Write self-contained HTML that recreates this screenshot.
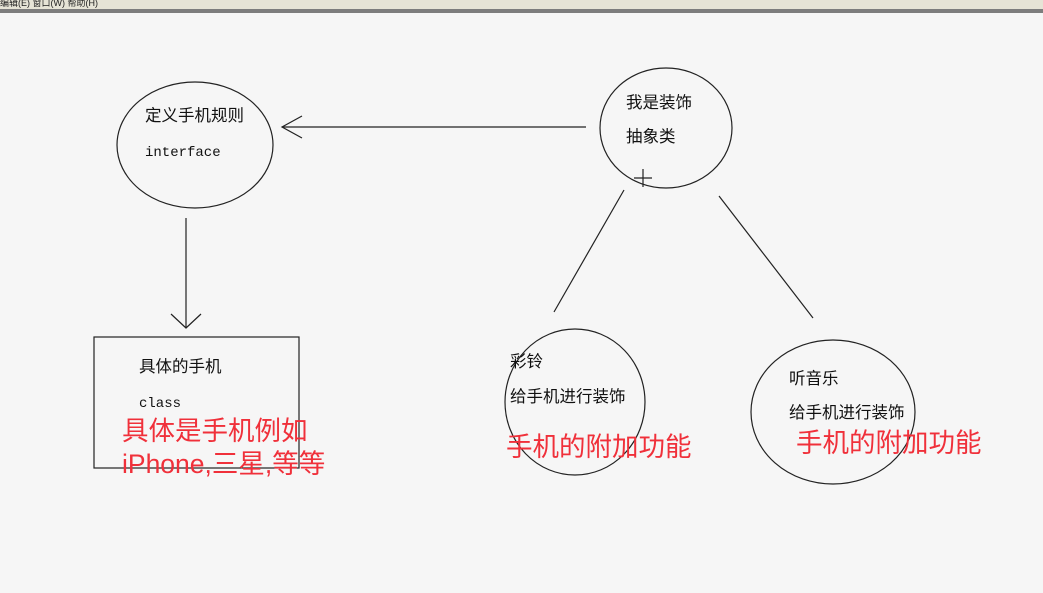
<!DOCTYPE html>
<html><head><meta charset="utf-8"><style>
html,body{margin:0;padding:0;width:1043px;height:593px;overflow:hidden;background:#f6f6f6}
svg{display:block}
.t{font-family:"Liberation Sans","WenQuanYi Zen Hei","Noto Sans CJK SC",sans-serif;font-size:16.5px;fill:#111}
.m{font-family:"Liberation Mono","Noto Sans CJK SC",monospace;font-size:14px;fill:#111}
.r{font-family:"Liberation Sans","Noto Sans CJK SC",sans-serif;font-size:26.5px;fill:#f0303a}
</style></head><body>
<svg width="1043" height="593" xmlns="http://www.w3.org/2000/svg">
<rect x="0" y="0" width="1043" height="9" fill="#e6e4d6"/>
<rect x="0" y="9" width="1043" height="4" fill="#7d7d7d"/>
<text x="0" y="6" font-family="Liberation Sans,WenQuanYi Zen Hei,sans-serif" font-size="9" fill="#222">编辑(E)   窗口(W)   帮助(H)</text>
<g fill="none" stroke="#222" stroke-width="1.2">
<ellipse cx="195" cy="145" rx="78" ry="63"/>
<ellipse cx="666" cy="128" rx="66" ry="60"/>
<ellipse cx="575" cy="402" rx="70" ry="73"/>
<ellipse cx="833" cy="412" rx="82" ry="72"/>
<rect x="94" y="337" width="205" height="131"/>
<line x1="586" y1="127" x2="282" y2="127"/>
<polyline points="302,116 282,127 302,138"/>
<line x1="186" y1="218" x2="186" y2="328"/>
<polyline points="171,314 186,328 201,314"/>
<line x1="624" y1="190" x2="554" y2="312"/>
<line x1="719" y1="196" x2="813" y2="318"/>
<line x1="634" y1="178" x2="652" y2="178"/>
<line x1="643" y1="169" x2="643" y2="187"/>
</g>
<text class="t" x="145" y="121">定义手机规则</text>
<text class="m" x="145" y="156">interface</text>
<text class="t" x="626" y="108">我是装饰</text>
<text class="t" x="626" y="142">抽象类</text>
<text class="t" x="139" y="372">具体的手机</text>
<text class="m" x="139" y="407">class</text>
<text class="t" x="510" y="367">彩铃</text>
<text class="t" x="510" y="402">给手机进行装饰</text>
<text class="t" x="789" y="384">听音乐</text>
<text class="t" x="789" y="418">给手机进行装饰</text>
<text class="r" x="122" y="440">具体是手机例如</text>
<text class="r" x="122" y="473">iPhone,三星,等等</text>
<text class="r" x="506" y="456">手机的附加功能</text>
<text class="r" x="796" y="452">手机的附加功能</text>
</svg>
</body></html>
